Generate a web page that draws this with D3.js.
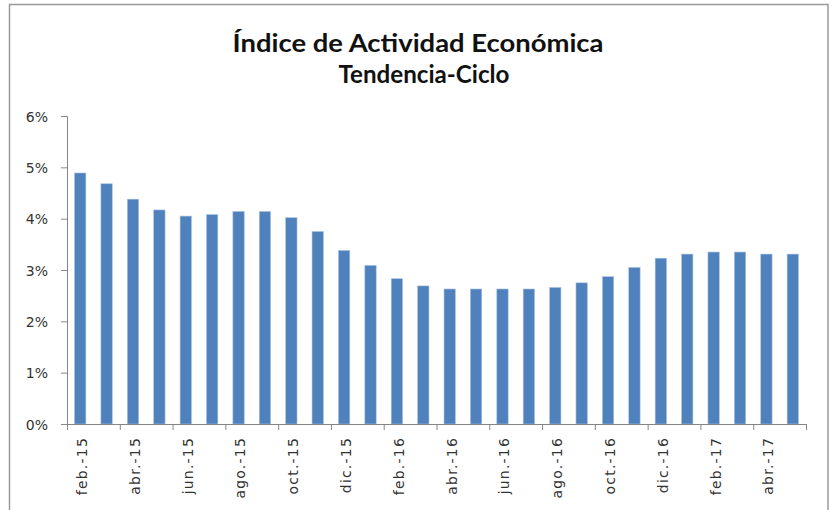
<!DOCTYPE html>
<html>
<head>
<meta charset="utf-8">
<script src="https://cdn.jsdelivr.net/npm/d3@7"></script>
<style>
  html, body { margin: 0; padding: 0; background: #fff; }
  svg { display: block; }
</style>
</head>
<body>
<svg id="chart" width="835" height="510"></svg>
<script>
// ---- Data ----
const months = [
  "feb.-15","mar.-15","abr.-15","may.-15","jun.-15","jul.-15","ago.-15","sep.-15",
  "oct.-15","nov.-15","dic.-15","ene.-16","feb.-16","mar.-16","abr.-16","may.-16",
  "jun.-16","jul.-16","ago.-16","sep.-16","oct.-16","nov.-16","dic.-16","ene.-17",
  "feb.-17","mar.-17","abr.-17","may.-17"
];
const values = [
  4.89, 4.68, 4.38, 4.17, 4.05, 4.08, 4.14, 4.14,
  4.02, 3.75, 3.38, 3.09, 2.83, 2.69, 2.63, 2.63,
  2.63, 2.63, 2.66, 2.75, 2.87, 3.05, 3.23, 3.31,
  3.35, 3.35, 3.31, 3.31
];
const yTicks = [0, 1, 2, 3, 4, 5, 6];
const titleLines = ["Índice de Actividad Económica", "Tendencia-Ciclo"];

(function () {
// ---- Layout ----
const svg = d3.select("#chart");
const mLeft = 67, mRight = 806, mTop = 116, mBottom = 424;

// frame
svg.append("path")
  .attr("d", "M9.5,510 L9.5,4.5 L828,4.5 L828,510")
  .attr("fill", "none")
  .attr("stroke", "#9a9a9a")
  .attr("stroke-width", 1.5);

// title
const titleG = svg.append("g");
const titleSpecs = [{y: 52, len: 371, cx: 418}, {y: 82.5, len: 171, cx: 424}];
titleLines.forEach((t, i) => {
  titleG.append("text")
    .attr("x", titleSpecs[i].cx)
    .attr("y", titleSpecs[i].y)
    .attr("text-anchor", "middle")
    .attr("font-family", "Lato, 'Open Sans', sans-serif")
    .attr("font-weight", "bold")
    .attr("font-size", 24)
    .attr("fill", "#111")
    .attr("textLength", titleSpecs[i].len)
    .attr("lengthAdjust", "spacingAndGlyphs")
    .text(t);
});

// scales
const x = d3.scaleBand()
  .domain(months)
  .range([mLeft, mRight])
  .paddingInner(0.57)
  .paddingOuter(0.285);
const xb = d3.scaleLinear().domain([0, months.length]).range([mLeft, mRight]);
const y = d3.scaleLinear().domain([0, 6]).range([mBottom, mTop]);

// bars
svg.append("g").selectAll("rect")
  .data(values)
  .join("rect")
  .attr("x", (d, i) => x(months[i]))
  .attr("y", d => y(d))
  .attr("width", x.bandwidth())
  .attr("height", d => y(0) - y(d))
  .attr("fill", "#4F81BD")
  .attr("stroke", "#a9c1e0")
  .attr("stroke-width", 0.6);

// y axis
const yAxis = d3.axisLeft(y)
  .tickValues(yTicks)
  .tickFormat(d => d + "%")
  .tickSize(6)
  .tickPadding(13);
const yg = svg.append("g").attr("transform", `translate(${mLeft},0)`).call(yAxis);
yg.select(".domain").attr("stroke", "#868686");
yg.selectAll(".tick line").attr("stroke", "#868686");
yg.selectAll(".tick text")
  .attr("font-family", "'DejaVu Sans', Verdana, sans-serif")
  .attr("font-size", 14)
  .attr("fill", "#333")
  .attr("dy", "0.36em");

// x axis tick marks at category boundaries every 2
const boundaryTicks = d3.range(0, months.length + 1, 2);
const xTickAxis = d3.axisBottom(xb)
  .tickValues(boundaryTicks)
  .tickFormat("")
  .tickSize(6)
  .tickSizeOuter(0);
const xg = svg.append("g").attr("transform", `translate(0,${mBottom})`).call(xTickAxis);
xg.select(".domain").attr("stroke", "#868686");
xg.selectAll(".tick line").attr("stroke", "#868686");

// x labels every 2 categories
const labelMonths = months.filter((m, i) => i % 2 === 0);
const xLabelAxis = d3.axisBottom(x)
  .tickValues(labelMonths)
  .tickSize(0)
  .tickPadding(0);
const xl = svg.append("g").attr("transform", `translate(2,${mBottom})`).call(xLabelAxis);
xl.select(".domain").remove();
xl.selectAll(".tick text")
  .attr("font-family", "'DejaVu Sans', Verdana, sans-serif")
  .attr("font-size", 14)
  .attr("letter-spacing", "1.2px")
  .attr("fill", "#333")
  .attr("transform", "rotate(-90)")
  .attr("text-anchor", "end")
  .attr("x", -13)
  .attr("y", 0)
  .attr("dy", "0.35em");
})();
</script>
</body>
</html>
